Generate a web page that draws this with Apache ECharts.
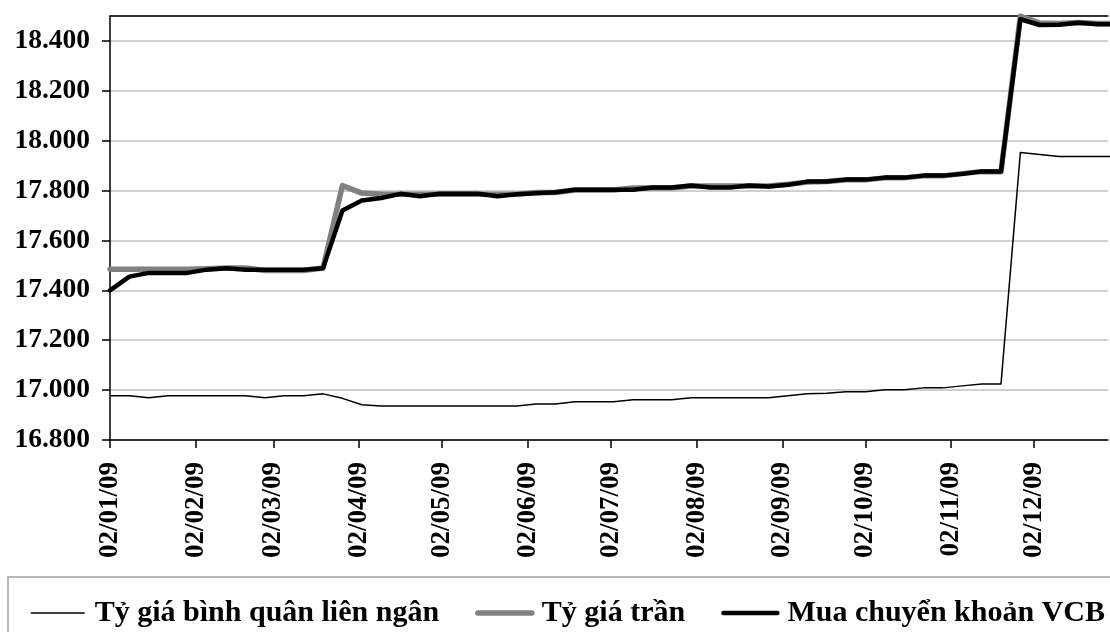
<!DOCTYPE html>
<html style="height: 100%">
<head>
    <meta charset="utf-8">
</head>
<body style="height: 100%; margin: 0; background: #fff">
<div id="container" style="width: 1110px; height: 632px"></div>
<script type="text/javascript" src="https://cdn.jsdelivr.net/npm/echarts@6/dist/echarts.min.js"></script>
<script type="text/javascript">
    // ngày (thứ sáu hàng tuần)
    var dates = [
        '2009-01-02', '2009-01-09', '2009-01-16', '2009-01-23', '2009-01-30',
        '2009-02-06', '2009-02-13', '2009-02-20', '2009-02-27',
        '2009-03-06', '2009-03-13', '2009-03-20', '2009-03-27',
        '2009-04-03', '2009-04-10', '2009-04-17', '2009-04-24',
        '2009-05-01', '2009-05-08', '2009-05-15', '2009-05-22', '2009-05-29',
        '2009-06-05', '2009-06-12', '2009-06-19', '2009-06-26',
        '2009-07-03', '2009-07-10', '2009-07-17', '2009-07-24', '2009-07-31',
        '2009-08-07', '2009-08-14', '2009-08-21', '2009-08-28',
        '2009-09-04', '2009-09-11', '2009-09-18', '2009-09-25',
        '2009-10-02', '2009-10-09', '2009-10-16', '2009-10-23', '2009-10-30',
        '2009-11-06', '2009-11-13', '2009-11-20', '2009-11-27',
        '2009-12-04', '2009-12-11', '2009-12-18', '2009-12-25', '2010-01-01'
    ];
    // Tỷ giá bình quân liên ngân hàng
    var interbank = [
        16977, 16977, 16969, 16977, 16977,
        16977, 16977, 16977, 16969,
        16977, 16977, 16985, 16967,
        16941, 16936, 16936, 16936,
        16936, 16936, 16936, 16936, 16936,
        16944, 16944, 16953, 16953,
        16953, 16961, 16961, 16961, 16969,
        16969, 16969, 16969, 16969,
        16977, 16985, 16987, 16993,
        16993, 17001, 17001, 17009, 17009,
        17017, 17025, 17025, 17953,
        17945, 17937, 17937, 17937, 17937
    ];
    // Tỷ giá trần
    var ceiling = [
        17485, 17485, 17485, 17485, 17485,
        17487, 17490, 17490, 17480,
        17480, 17480, 17490, 17820,
        17790, 17785, 17785, 17785,
        17785, 17785, 17785, 17785, 17785,
        17792, 17792, 17802, 17802,
        17802, 17810, 17810, 17810, 17818,
        17818, 17818, 17818, 17818,
        17825, 17834, 17836, 17843,
        17843, 17851, 17851, 17859, 17859,
        17868, 17876, 17876, 18500,
        18472, 18470, 18474, 18470, 18470
    ];
    // Mua chuyển khoản VCB
    var vcb = [
        17400, 17455, 17470, 17470, 17470,
        17483, 17489, 17483, 17483,
        17483, 17483, 17489, 17720,
        17760, 17770, 17787, 17777,
        17787, 17787, 17787, 17777, 17785,
        17789, 17793, 17803, 17803,
        17803, 17803, 17812, 17812, 17820,
        17812, 17812, 17820, 17816,
        17823, 17836, 17836, 17844,
        17844, 17852, 17852, 17860, 17860,
        17867, 17877, 17877, 18487,
        18464, 18465, 18473, 18467, 18467
    ];
    var seriesNames = ['Tỷ giá bình quân liên ngân', 'Tỷ giá trần', 'Mua chuyển khoản VCB'];
    var tickDates = [
        '2009-01-02', '2009-02-02', '2009-03-02', '2009-04-02', '2009-05-02', '2009-06-02',
        '2009-07-02', '2009-08-02', '2009-09-02', '2009-10-02', '2009-11-02', '2009-12-02'
    ];
    var tickLabels = [
        '02/01/09', '02/02/09', '02/03/09', '02/04/09', '02/05/09', '02/06/09',
        '02/07/09', '02/08/09', '02/09/09', '02/10/09', '02/11/09', '02/12/09'
    ];

    // chuyển ngày sang mốc thời gian
    function ts(s) {
        var p = s.split('-');
        return Date.UTC(+p[0], +p[1] - 1, +p[2]);
    }
    function pairs(vals) {
        var out = [];
        for (var i = 0; i < dates.length; i++) {
            out.push([ts(dates[i]), vals[i]]);
        }
        return out;
    }
    var tickTs = tickDates.map(ts);

    var font = 'Liberation Serif, Times New Roman, serif';
    var dom = document.getElementById('container');
    var myChart = echarts.init(dom);

    var option = {
        animation: false,
        backgroundColor: '#fff',
        grid: { left: 110, right: 2, top: 16, bottom: 192 },
        legend: {
            left: 8,
            top: 577,
            width: 1400,
            itemWidth: 54,
            itemHeight: 14,
            itemGap: 36,
            padding: [21, 30, 40, 22],
            borderColor: '#a0a0a0',
            borderWidth: 1.5,
            textStyle: { fontFamily: font, fontWeight: 'bold', fontSize: 30, color: '#000', padding: [0, 0, 0, 5] },
            data: [
                { name: seriesNames[0], lineStyle: { width: 1.5 }, itemStyle: { opacity: 0 } },
                { name: seriesNames[1], lineStyle: { width: 5.5 }, itemStyle: { opacity: 0 } },
                { name: seriesNames[2], lineStyle: { width: 4.5 }, itemStyle: { opacity: 0 } }
            ]
        },
        xAxis: [{
            type: 'value',
            min: ts('2009-01-02'),
            max: ts('2009-12-28') + 16 * 3600 * 1000,
            axisLine: { lineStyle: { color: '#000', width: 1.5 } },
            axisTick: { show: true, length: 8, customValues: tickTs, lineStyle: { color: '#000', width: 1.5 } },
            splitLine: { show: false },
            axisLabel: {
                customValues: tickTs,
                rotate: 90,
                margin: 22,
                fontFamily: font,
                fontWeight: 'bold',
                fontSize: 27,
                color: '#000',
                formatter: function (v) {
                    var i = tickTs.indexOf(v);
                    return i >= 0 ? tickLabels[i] : '';
                }
            }
        }, {
            type: 'value',
            position: 'top',
            axisLine: { show: true, lineStyle: { color: '#000', width: 1.5 } },
            axisTick: { show: false },
            axisLabel: { show: false },
            splitLine: { show: false }
        }],
        yAxis: {
            type: 'value',
            min: 16800,
            max: 18500,
            interval: 200,
            axisLine: { show: true, lineStyle: { color: '#000', width: 1.5 } },
            axisTick: { show: true, length: 8, lineStyle: { color: '#000', width: 1.5 } },
            splitLine: { lineStyle: { color: '#c0c0c0', width: 1.5 } },
            axisLabel: {
                margin: 20,
                showMaxLabel: false,
                fontFamily: font,
                fontWeight: 'bold',
                fontSize: 27.5,
                color: '#000',
                formatter: function (v) {
                    if (v === 18500) return '';
                    var s = String(v);
                    return s.slice(0, s.length - 3) + '.' + s.slice(s.length - 3);
                }
            }
        },
        series: [{
            name: seriesNames[0],
            type: 'line',
            symbol: 'none',
            data: pairs(interbank),
            lineStyle: { color: '#000', width: 1.5, join: 'round' },
            itemStyle: { color: '#000' },
            z: 3
        }, {
            name: seriesNames[1],
            type: 'line',
            symbol: 'none',
            data: pairs(ceiling),
            lineStyle: { color: '#808080', width: 5.5, cap: 'round', join: 'round' },
            itemStyle: { color: '#808080' },
            z: 2
        }, {
            name: seriesNames[2],
            type: 'line',
            symbol: 'none',
            data: pairs(vcb),
            lineStyle: { color: '#000', width: 4.5, cap: 'round', join: 'round' },
            itemStyle: { color: '#000' },
            z: 4
        }]
    };
    myChart.setOption(option);
</script>
</body>
</html>
